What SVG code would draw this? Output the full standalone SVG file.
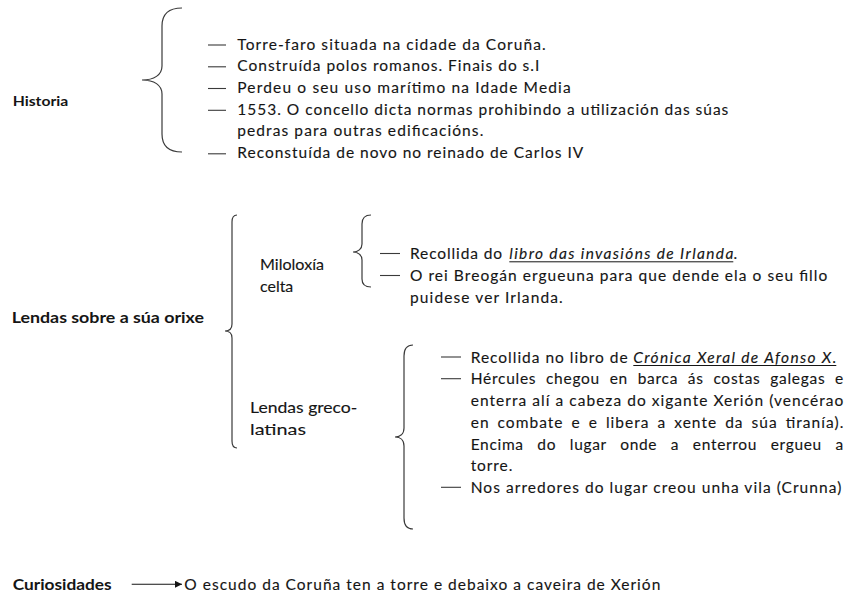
<svg xmlns="http://www.w3.org/2000/svg" width="848" height="596" viewBox="0 0 848 596">
<style>
  text { font-family: Lato, "Liberation Sans", sans-serif; fill: #151515; stroke: #151515; stroke-width: 0.12px; }
  .b { font-weight: bold; stroke-width: 0; }
  .t { font-size: 15.5px; }
  .l { font-size: 15px; }
  .i { font-style: italic; }
  .br { fill: none; stroke: #3a3a3a; stroke-width: 1.2; }
  .d { stroke: #3a3a3a; stroke-width: 1.1; }
  .u { stroke: #151515; stroke-width: 1; }
</style>
<defs>
  <marker id="ah" viewBox="0 0 10 10" refX="10" refY="5" markerWidth="7" markerHeight="7" markerUnits="userSpaceOnUse" orient="auto">
    <path d="M0,0 L10,5 L0,10 z" fill="#151515"/>
  </marker>
</defs>
<rect width="848" height="596" fill="#ffffff"/>

<g id="connectors">
  <!-- braces -->
  <path class="br" d="M182,8 C170,8 162,13 162,26 L162,66 C162,75 154,80 142,80 C154,80 162,85 162,94 L162,134 C162,147 170,152 182,152"/>
  <path class="br" d="M237,215 C233.5,215 232,218 232,222 L232,324 C232,329 229,331 225,331 C229,331 232,333 232,338 L232,441 C232,445 233.5,448 237,448"/>
  <path class="br" d="M371,215 C365,215 362,218 362,224 L362,244 C362,249 358,252 353,252 C358,252 362,255 362,260 L362,279 C362,284 365,287 371,287"/>
  <path class="br" d="M413,345 C407,345 404,349 404,356 L404,428 C404,434 400,437 395,437 C400,437 404,440 404,446 L404,518 C404,525 407,529 413,529"/>
  <!-- dashes -->
  <line class="d" x1="208" y1="45" x2="226" y2="45"/>
  <line class="d" x1="208" y1="66.8" x2="226" y2="66.8"/>
  <line class="d" x1="208" y1="88.5" x2="226" y2="88.5"/>
  <line class="d" x1="208" y1="110.3" x2="226" y2="110.3"/>
  <line class="d" x1="208" y1="153.8" x2="226" y2="153.8"/>
  <line class="d" x1="380" y1="253.5" x2="400" y2="253.5"/>
  <line class="d" x1="380" y1="275.5" x2="400" y2="275.5"/>
  <line class="d" x1="441" y1="357" x2="461" y2="357"/>
  <line class="d" x1="441" y1="378.7" x2="461" y2="378.7"/>
  <line class="d" x1="441" y1="487.3" x2="461" y2="487.3"/>
  <!-- arrow -->
  <line x1="131.7" y1="584.3" x2="182" y2="584.3" stroke="#151515" stroke-width="1.1" marker-end="url(#ah)"/>
</g>

<g id="historia">
  <text class="b" x="12.7" y="106" font-size="13.5" textLength="55.6" lengthAdjust="spacingAndGlyphs">Historia</text>
</g>
<g id="historia-items">
  <text class="t" x="237.3" y="49.5" textLength="308.4" lengthAdjust="spacing">Torre-faro situada na cidade da Coruña.</text>
  <text class="t" x="237.3" y="71.2" textLength="302" lengthAdjust="spacing">Construída polos romanos. Finais do s.I</text>
  <text class="t" x="237.3" y="92.9" textLength="333.4" lengthAdjust="spacing">Perdeu o seu uso marítimo na Idade Media</text>
  <text class="t" x="237.3" y="114.6" textLength="491" lengthAdjust="spacing">1553. O concello dicta normas prohibindo a utilización das súas</text>
  <text class="t" x="237.3" y="136.3" textLength="246" lengthAdjust="spacing">pedras para outras edificacións.</text>
  <text class="t" x="237.3" y="158" textLength="346" lengthAdjust="spacing">Reconstuída de novo no reinado de Carlos IV</text>
</g>

<g id="lendas">
  <text class="b" x="11.7" y="322.7" font-size="14.5" textLength="192.3" lengthAdjust="spacingAndGlyphs">Lendas sobre a súa orixe</text>
</g>

<g id="miloloxia">
  <text class="l" x="260" y="270" textLength="64" lengthAdjust="spacingAndGlyphs">Miloloxía</text>
  <text class="l" x="260" y="291.7" textLength="33.3" lengthAdjust="spacingAndGlyphs">celta</text>
</g>
<g id="miloloxia-items">
  <text class="t" x="410" y="259.2" textLength="92" lengthAdjust="spacing">Recollida do</text>
  <text class="t i" x="509.3" y="259.2" textLength="224" lengthAdjust="spacing">libro das invasións de Irlanda</text>
  <line class="u" x1="509.3" y1="261.8" x2="733.3" y2="261.8"/>
  <text class="t" x="733.5" y="259.2">.</text>
  <text class="t" x="410" y="280.9" textLength="417.3" lengthAdjust="spacing">O rei Breogán ergueuna para que dende ela o seu fillo</text>
  <text class="t" x="410" y="302.6" textLength="152.7" lengthAdjust="spacing">puidese ver Irlanda.</text>
</g>

<g id="greco">
  <text class="l" x="250" y="413.3" textLength="107.3" lengthAdjust="spacingAndGlyphs">Lendas greco-</text>
  <text class="l" x="250" y="435" textLength="56" lengthAdjust="spacingAndGlyphs">latinas</text>
</g>
<g id="greco-items">
  <text class="t" x="470.7" y="362.7" textLength="157" lengthAdjust="spacing">Recollida no libro de</text>
  <text class="t i" x="633.3" y="362.7" textLength="203" lengthAdjust="spacing">Crónica Xeral de Afonso X.</text>
  <line class="u" x1="633.3" y1="365.5" x2="836.3" y2="365.5"/>
  <text class="t" x="470.7" y="384.4" word-spacing="5" textLength="372.6" lengthAdjust="spacing">Hércules chegou en barca ás costas galegas e</text>
  <text class="t" x="470.7" y="406.1" textLength="372.6" lengthAdjust="spacing">enterra alí a cabeza do xigante Xerión (vencérao</text>
  <text class="t" x="470.7" y="427.8" word-spacing="3" textLength="372.6" lengthAdjust="spacing">en combate e e libera a xente da súa tiranía).</text>
  <text class="t" x="470.7" y="449.5" word-spacing="9" textLength="372.6" lengthAdjust="spacing">Encima do lugar onde a enterrou ergueu a</text>
  <text class="t" x="470.7" y="471.2" textLength="41.6" lengthAdjust="spacing">torre.</text>
  <text class="t" x="470.7" y="492.9" textLength="370.6" lengthAdjust="spacing">Nos arredores do lugar creou unha vila (Crunna)</text>
</g>

<g id="curiosidades">
  <text class="b" x="12.7" y="590" font-size="14.5" textLength="99" lengthAdjust="spacingAndGlyphs">Curiosidades</text>
</g>
<g id="curiosidades-item">
  <text x="184.3" y="590" font-size="15.5" textLength="476" lengthAdjust="spacing">O escudo da Coruña ten a torre e debaixo a caveira de Xerión</text>
</g>
</svg>
